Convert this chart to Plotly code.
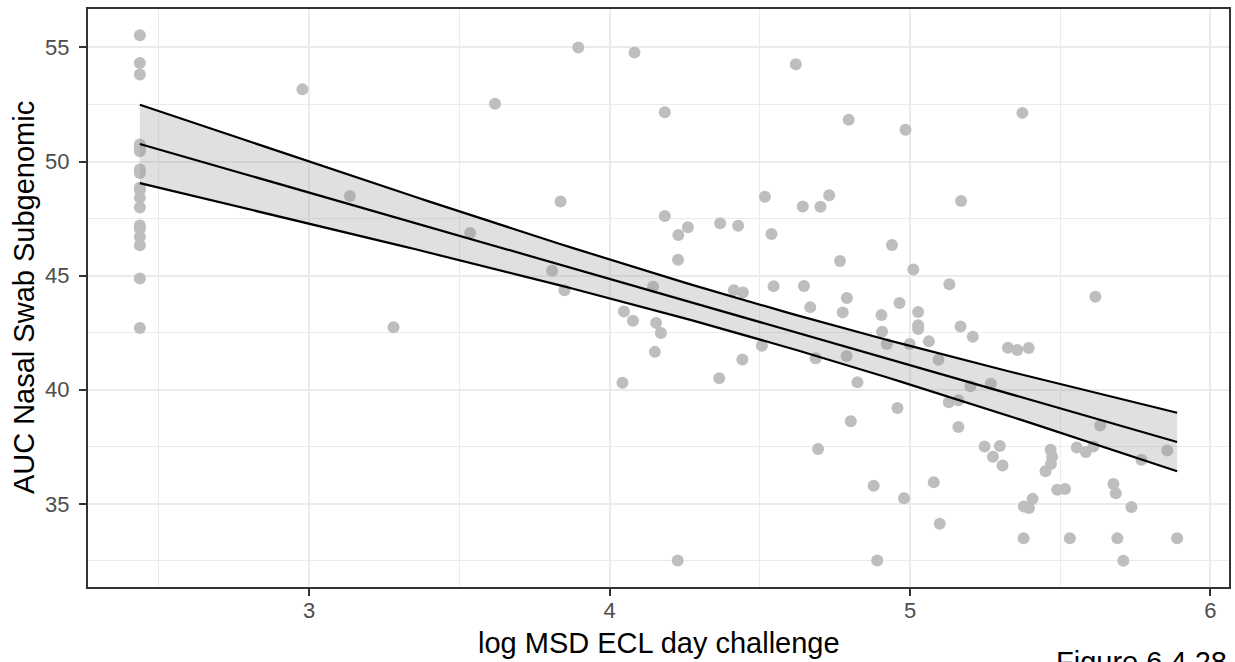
import numpy as np
import plotly.graph_objects as go

# ---- data ----
msd_x = [2.437] * 18 + [
    2.978, 3.619, 3.136, 3.536, 3.281,
    3.896, 4.083, 4.620, 4.184, 4.796, 4.985,
    3.837, 4.184, 4.229, 4.261, 4.368, 4.428, 4.517, 4.643, 4.702, 4.731, 4.539,
    4.228, 4.940, 4.767, 5.011, 3.809, 3.850, 4.145, 4.414, 4.444, 4.546, 4.647,
    4.790, 4.965,
    4.048, 4.078, 4.155, 4.171, 4.151, 4.043, 4.365, 4.442, 4.507, 4.668, 4.686,
    4.776, 4.789, 4.825, 4.905, 4.907, 4.923, 4.999, 5.027, 5.027, 5.027, 4.958,
    4.803, 4.694, 4.879, 4.980, 4.227, 4.891,
    5.374, 5.170, 5.131, 5.617,
    5.168, 5.209, 5.063, 5.095, 5.326, 5.357, 5.395, 5.269, 5.201, 5.129, 5.161,
    5.161, 5.633, 5.248, 5.299, 5.276, 5.308, 5.468, 5.473, 5.469, 5.451, 5.555,
    5.585, 5.610, 5.856, 5.770, 5.079, 5.677, 5.685, 5.737, 5.490, 5.516, 5.408,
    5.379, 5.396, 5.099, 5.378, 5.532, 5.690, 5.889, 5.710,
]
auc_y = [
    55.53, 54.32, 53.81, 50.75, 50.55, 50.45, 49.65, 49.50, 48.85, 48.75, 48.41,
    47.98, 47.20, 47.05, 46.69, 46.33, 44.87, 42.71,
    53.16, 52.53, 48.49, 46.87, 42.74,
    54.99, 54.77, 54.26, 52.16, 51.83, 51.39,
    48.25, 47.61, 46.78, 47.12, 47.29, 47.19, 48.46, 48.03, 48.02, 48.52, 46.82,
    45.70, 46.34, 45.64, 45.27, 45.21, 44.36, 44.51, 44.36, 44.26, 44.54, 44.55,
    44.02, 43.80,
    43.43, 43.02, 42.93, 42.49, 41.66, 40.31, 40.50, 41.33, 41.93, 43.62, 41.38,
    43.39, 41.48, 40.33, 43.27, 42.54, 42.00, 42.00, 43.41, 42.83, 42.66, 39.20,
    38.62, 37.40, 35.79, 35.25, 32.52, 32.52,
    52.13, 48.27, 44.62, 44.07,
    42.77, 42.32, 42.12, 41.31, 41.84, 41.74, 41.83, 40.26, 40.15, 39.45, 39.54,
    38.37, 38.43, 37.51, 37.54, 37.07, 36.68, 37.37, 37.07, 36.75, 36.43, 37.47,
    37.27, 37.51, 37.34, 36.93, 35.95, 35.87, 35.47, 34.86, 35.62, 35.65, 35.22,
    34.89, 34.82, 34.13, 33.49, 33.49, 33.49, 33.49, 32.51,
]
x_ticks = [3, 4, 5, 6]
y_ticks = [35, 40, 45, 50, 55]
x_title = "log MSD ECL day challenge"
y_title = "AUC Nasal Swab Subgenomic"
caption = "Figure 6.4.28"
T_CRIT = 1.98  # t quantile (95%) for ~120 df

# ---- linear model (like geom_smooth(method = "lm")) ----
xa = np.array(msd_x)
ya = np.array(auc_y)
n = len(xa)
slope, intercept = np.polyfit(xa, ya, 1)
resid = ya - (intercept + slope * xa)
s2 = np.sum(resid ** 2) / (n - 2)
xbar = xa.mean()
sxx = np.sum((xa - xbar) ** 2)
xg = np.linspace(xa.min(), xa.max(), 80)
yg = intercept + slope * xg
se = np.sqrt(s2 * (1.0 / n + (xg - xbar) ** 2 / sxx))
lo = yg - T_CRIT * se
hi = yg + T_CRIT * se

# axis ranges with ggplot-like 5% expansion
xr = xa.max() - xa.min()
yr = ya.max() - ya.min()
x_range = [xa.min() - 0.05 * xr, xa.max() + 0.05 * xr]
y_range = [ya.min() - 0.05 * yr, ya.max() + 0.05 * yr]

FONT = "Liberation Sans, Arial, Helvetica, sans-serif"

fig = go.Figure()
fig.add_trace(go.Scatter(
    x=msd_x, y=auc_y, mode="markers",
    marker=dict(color="#BEBEBE", size=12, line=dict(width=0)),
    showlegend=False, hoverinfo="x+y",
))
fig.add_trace(go.Scatter(
    x=np.concatenate([xg, xg[::-1]]), y=np.concatenate([hi, lo[::-1]]),
    mode="lines", fill="toself", fillcolor="rgba(153,153,153,0.3)",
    line=dict(width=0), showlegend=False, hoverinfo="skip",
))
for yy in (hi, yg, lo):
    fig.add_trace(go.Scatter(
        x=xg, y=yy, mode="lines", line=dict(color="black", width=2.2),
        showlegend=False, hoverinfo="skip",
    ))

axis_common = dict(
    showgrid=True, gridcolor="#EBEBEB", gridwidth=2,
    zeroline=False, showline=True, mirror=True, linecolor="#333333", linewidth=2,
    ticks="outside", ticklen=7, tickwidth=2, tickcolor="#333333",
    tickfont=dict(family=FONT, size=22, color="#4D4D4D"),
)
fig.update_xaxes(
    range=x_range, tickvals=x_ticks, ticktext=[str(v) for v in x_ticks],
    minor=dict(tickvals=[2.5, 3.5, 4.5, 5.5], showgrid=True,
               gridcolor="#EBEBEB", gridwidth=1.1, ticks=""),
    ticklabelstandoff=-4, **axis_common,
)
fig.update_yaxes(
    range=y_range, tickvals=y_ticks, ticktext=[str(v) for v in y_ticks],
    minor=dict(tickvals=[32.5, 37.5, 42.5, 47.5, 52.5], showgrid=True,
               gridcolor="#EBEBEB", gridwidth=1.1, ticks=""),
    ticklabelstandoff=5, **axis_common,
)

plot_h = 662 - 9 - 75
fig.update_layout(
    width=1235, height=662,
    margin=dict(l=88, r=4, t=9, b=75, pad=0),
    paper_bgcolor="white", plot_bgcolor="white",
    font=dict(family=FONT),
    annotations=[
        dict(text=x_title, xref="paper", yref="paper", x=0.5,
             y=(587 - 643) / plot_h, xanchor="center", yanchor="middle",
             showarrow=False, font=dict(family=FONT, size=29, color="black")),
        dict(text=y_title, xref="paper", yref="paper",
             x=(24 - 88) / (1235 - 92), y=0.5, xanchor="center", yanchor="middle",
             textangle=-90, showarrow=False,
             font=dict(family=FONT, size=29, color="black")),
        dict(text=caption, xref="paper", yref="paper", x=1.0,
             y=(587 - 662) / plot_h, xanchor="right", yanchor="middle",
             showarrow=False, font=dict(family=FONT, size=29, color="black")),
    ],
)

fig.write_html("out.html")
